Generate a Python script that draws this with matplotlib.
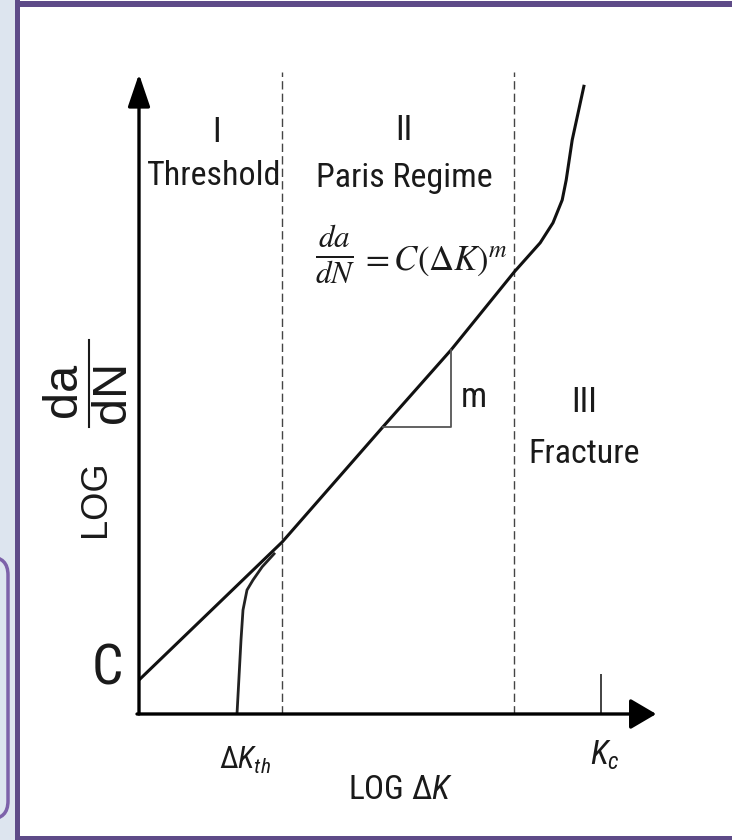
import matplotlib
matplotlib.use("Agg")
import matplotlib.pyplot as plt
from matplotlib import font_manager
from matplotlib.patches import Rectangle, FancyBboxPatch

# crack growth sketch (log dK, log da/dN)
paris_x = [0.0, 3.58, 6.1, 7.8, 9.38, 10.03, 10.35, 10.58, 10.68, 10.83, 11.13]
paris_y = [0.85, 4.3, 7.18, 9.1, 11.05, 11.78, 12.28, 12.85, 13.35, 14.35, 15.73]
thresh_x = [2.45, 2.55, 2.6, 2.7, 2.85, 3.08, 3.4]
thresh_y = [0.0, 1.85, 2.6, 3.1, 3.35, 3.68, 4.03]
region_bounds = [3.58, 9.38]
kc = 11.55
slope_run = [6.1, 7.8]
slope_rise = [7.18, 9.1]
numerals = ["I", "II", "III"]
region_names = ["Threshold", "Paris Regime", "Fracture"]

# the source is narrow lettering, take a condensed face if there is one
names = {f.name for f in font_manager.fontManager.ttflist}
sans = "Liberation Sans"
for cand in ["Roboto Condensed", "Liberation Sans Narrow", "Archivo Narrow", "PT Sans Narrow"]:
    if cand in names:
        sans = cand
        break
plt.rcParams["font.family"] = [sans, "DejaVu Sans"]
plt.rcParams["mathtext.fontset"] = "custom"
plt.rcParams["mathtext.rm"] = sans
plt.rcParams["mathtext.it"] = sans + ":italic"
ink = "#1a1a1a"

fig = plt.figure(figsize=(7.32, 8.40), dpi=100)

# slide frame behind the drawing
bg = fig.add_axes([0, 0, 1, 1], zorder=-1)
bg.set_xlim(0, 732)
bg.set_ylim(840, 0)
bg.axis("off")
bg.add_patch(Rectangle((0, 0), 15, 840, color="#dde5ef", lw=0))
bg.add_patch(Rectangle((15, 1), 720, 6, color="#5e4b88", lw=0))
bg.add_patch(Rectangle((15, 0), 5, 840, color="#5e4b88", lw=0))
bg.add_patch(Rectangle((15, 836), 720, 4, color="#5e4b88", lw=0))
bg.add_patch(FancyBboxPatch((-40, 557), 48, 262, boxstyle="round,pad=0,rounding_size=18",
                            fc="#dde5ef", ec="#7d62aa", lw=2.5))

ax = fig.add_axes([139 / 732, 126 / 840, 528 / 732, 648 / 840])
ax.set_xlim(0, 13.2)
ax.set_ylim(0, 16.2)
ax.axis("off")

x_arrow = dict(arrowstyle="-|>,head_length=0.8,head_width=0.47", mutation_scale=20,
               lw=2.4, color="black", shrinkA=0, shrinkB=0)
y_arrow = dict(arrowstyle="-|>,head_length=1.0,head_width=0.34", mutation_scale=20,
               lw=2.4, color="black", shrinkA=0, shrinkB=0)
ax.annotate("", xy=(12.93, 0), xytext=(-0.05, 0), arrowprops=x_arrow, annotation_clip=False)
ax.annotate("", xy=(0, 16.0), xytext=(0, 0), arrowprops=y_arrow, annotation_clip=False)

ax.vlines(region_bounds, 0, 16.05, colors="#444444", lw=1.0, linestyles=(0, (6, 3)))
ax.vlines(kc, 0, 1.0, colors="#222222", lw=1.2)

ax.plot(paris_x, paris_y, color="#111111", lw=2.2, solid_capstyle="butt", clip_on=False)
ax.plot(thresh_x, thresh_y, color="#222222", lw=2.0, solid_capstyle="butt")
ax.plot([slope_run[0], slope_run[1], slope_run[1]], [slope_rise[0], slope_rise[0], slope_rise[1]],
        color="#555555", lw=1.3)

# region captions
num_pos = [(1.95, 14.55), (6.63, 14.6), (11.13, 7.78)]
name_pos = [(1.88, 13.22), (6.64, 13.18), (11.14, 6.27)]
for s, (x, y) in zip(numerals, num_pos):
    ax.text(x, y, s, ha="center", va="center", fontsize=25, color=ink)
for s, (x, y) in zip(region_names, name_pos):
    ax.text(x, y, s, ha="center", va="baseline", fontsize=24.5, color=ink)

ax.text(8.05, 7.68, "m", ha="left", va="baseline", fontsize=25, color=ink)
ax.text(4.4, 11.48, r"$\frac{da}{dN}$", ha="left", va="center",
        fontsize=32, color=ink, math_fontfamily="stix")
ax.text(5.52, 11.32, r"$= C\left(\Delta K\right)^{m}$", ha="left", va="center",
        fontsize=25, color=ink, math_fontfamily="stix")

ax.text(-0.78, 1.13, "C", ha="center", va="center", fontsize=40, color=ink)
ax.text(2.65, -1.15, r"$\Delta \mathit{K}_{\mathit{th}}$", ha="center", va="center",
        fontsize=22, color=ink)
ax.text(11.65, -1.03, r"$\mathit{K}_{\mathit{c}}$", ha="center", va="center",
        fontsize=24, color=ink)
ax.text(6.53, -1.9, r"LOG $\Delta\mathit{K}$", ha="center", va="center", fontsize=24, color=ink)

# y label drawn as a sideways fraction, in the wider face
ax.text(-1.08, 5.38, "LOG", rotation=90, ha="center", va="center", fontsize=26,
        color=ink, family="Liberation Sans")
ax.text(-1.88, 8.1, "da", rotation=90, ha="center", va="center", fontsize=35,
        color=ink, family="Liberation Sans")
ax.text(-0.66, 8.05, "dN", rotation=90, ha="center", va="center", fontsize=35,
        color=ink, family="Liberation Sans")
ax.plot([-1.25, -1.25], [7.18, 9.35], color=ink, lw=1.5, clip_on=False)

fig.savefig("out.png", dpi=100, facecolor="white")
